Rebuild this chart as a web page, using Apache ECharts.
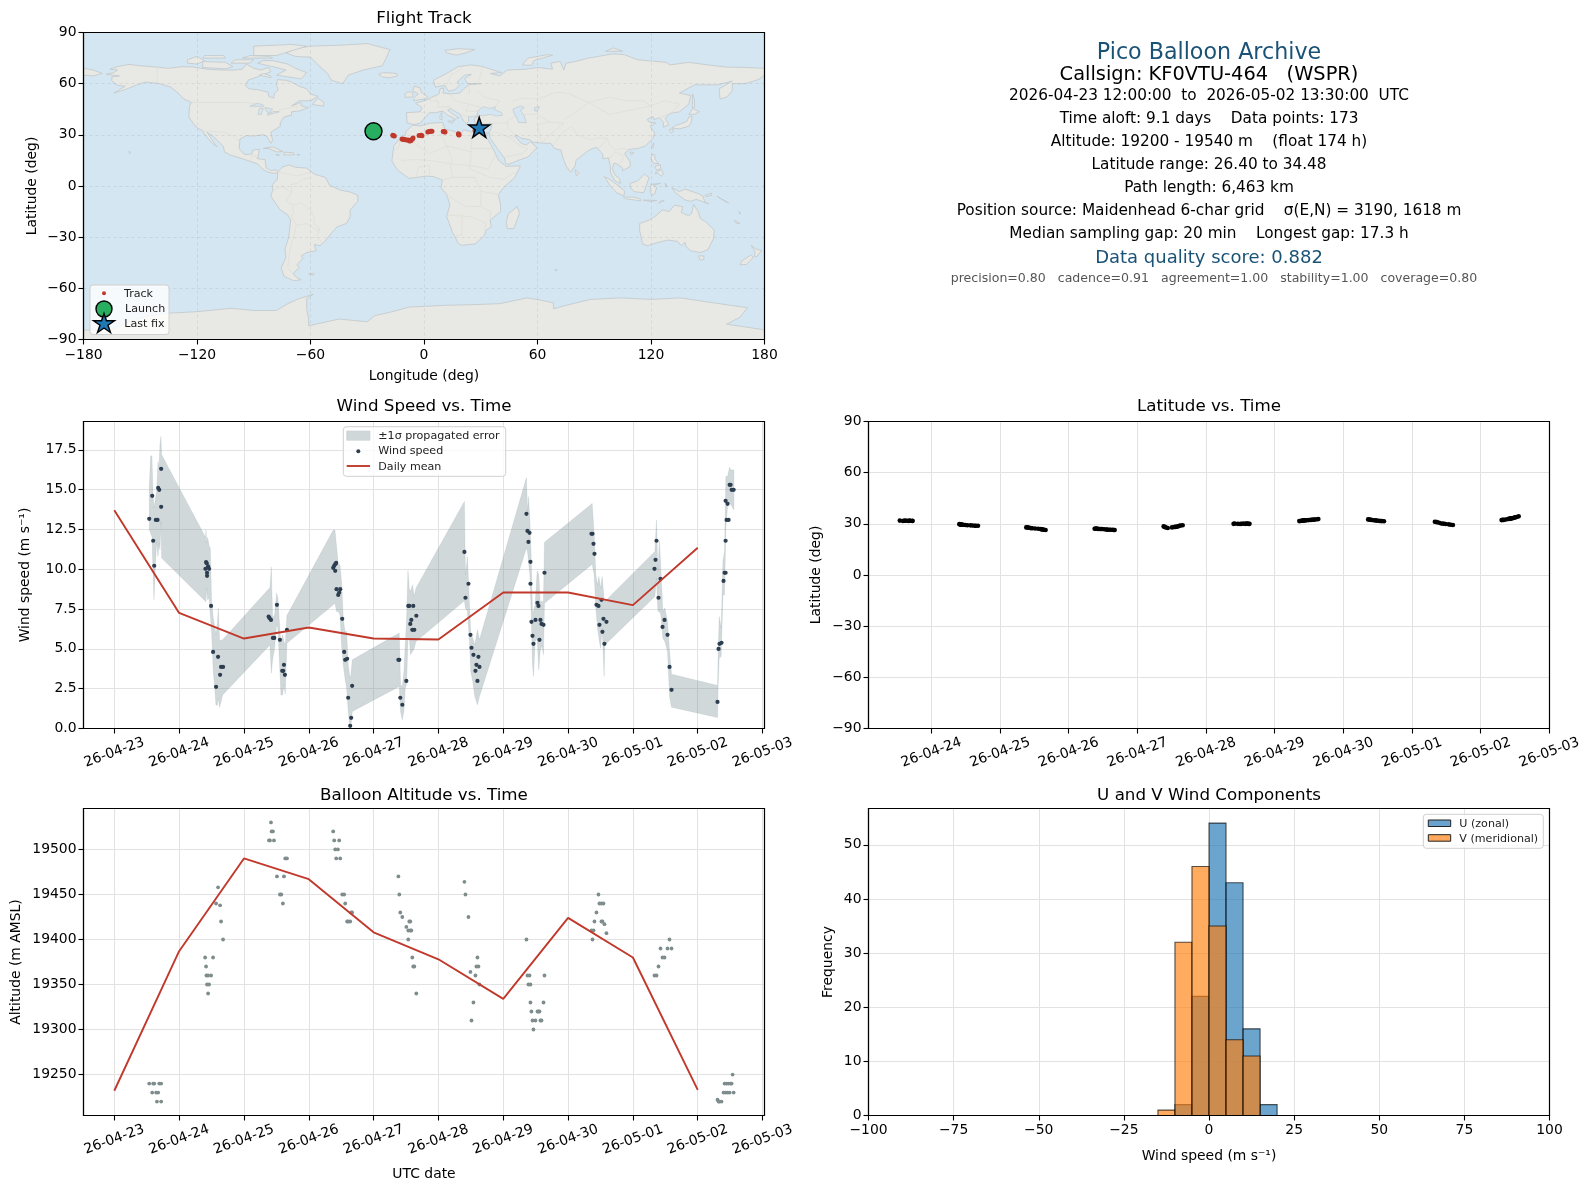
<!DOCTYPE html>
<html><head><meta charset="utf-8">
<style>html,body{margin:0;padding:0;background:#fff}#c{width:1589px;height:1189px}</style>
<script src="https://cdn.jsdelivr.net/npm/echarts@6/dist/echarts.min.js"></script>
</head><body><div id="c"></div>
<script>
// ---------- tick labels ----------
const dayLabels = ['26-04-23','26-04-24','26-04-25','26-04-26','26-04-27','26-04-28','26-04-29','26-04-30','26-05-01','26-05-02','26-05-03'];
const dayTicks = [0,1,2,3,4,5,6,7,8,9,10];
const latDayTicks = [1,2,3,4,5,6,7,8,9,10];
const windTicks = [0,2.5,5,7.5,10,12.5,15,17.5];
const altTicks = [19250,19300,19350,19400,19450,19500];
const lonTicks = [-180,-120,-60,0,60,120,180];
const latTicks = [-90,-60,-30,0,30,60,90];
const histXTicks = [-100,-75,-50,-25,0,25,50,75,100];
const histYTicks = [0,10,20,30,40,50];

// ---------- time series (days since 2026-04-23 00:00 UTC) ----------
const windTimes = [
0.539,0.585,0.600,0.616,0.641,0.667,0.677,0.693,0.723,0.723,
1.416,1.426,1.447,1.406,1.462,1.431,1.431,1.493,1.524,1.601,1.570,1.632,1.647,1.678,
2.381,2.396,2.417,2.447,2.468,2.509,2.555,2.663,2.617,2.591,2.606,2.632,
3.377,3.392,3.408,3.423,3.408,3.428,3.485,3.469,3.454,3.516,3.546,3.562,3.592,3.608,3.669,3.654,3.639,
4.382,4.397,4.412,4.443,4.505,4.535,4.551,4.612,4.582,4.566,4.597,4.628,4.659,
5.401,5.417,5.463,5.494,5.510,5.540,5.617,5.586,5.633,5.571,5.602,
6.358,6.374,6.405,6.389,6.420,6.420,6.636,6.528,6.543,6.435,6.497,6.574,6.590,6.621,6.451,6.466,6.559,
7.361,7.377,7.392,7.407,7.438,7.469,7.515,7.484,7.546,7.592,7.530,7.561,
8.364,8.349,8.333,8.426,8.395,8.488,8.457,8.534,8.565,8.596,
9.305,9.321,9.336,9.367,9.398,9.414,9.430,9.430,9.445,9.476,9.430,9.461,9.492,9.507,9.523,9.554];
const windValues = [
13.17,14.61,11.79,10.22,13.10,13.10,15.11,14.99,16.31,13.92,
10.45,10.38,10.19,10.03,10.03,9.78,9.59,7.70,4.81,4.50,2.62,3.37,3.87,3.87,
7.03,6.93,6.82,5.69,5.69,7.77,5.57,6.20,4.00,3.62,3.62,3.37,
10.09,10.22,10.32,10.40,9.90,8.75,8.75,8.54,8.39,6.89,4.81,4.31,4.38,1.93,2.68,0.67,0.17,
4.31,4.31,1.93,1.49,2.99,7.70,7.70,7.70,6.82,6.57,6.20,6.20,7.08,
11.09,8.21,9.09,5.88,5.07,4.63,4.50,4.00,3.87,3.62,2.99,
13.48,12.41,12.29,11.72,10.47,9.09,9.78,7.89,7.70,6.70,6.82,6.82,6.57,6.51,5.82,5.32,5.57,
12.23,12.23,11.60,10.97,7.77,7.70,8.08,6.51,6.89,6.70,6.07,5.32,
11.79,10.59,10.03,9.40,8.21,6.82,6.38,5.88,3.87,2.43,
1.67,5.00,5.32,5.38,9.27,9.78,9.78,11.79,13.10,13.10,14.30,14.11,15.30,15.30,14.99,14.99];
const latValues = [
31.9,31.7,31.8,31.9,31.8,31.7,31.9,31.8,31.7,31.8,
29.7,29.6,29.5,29.8,29.5,29.6,29.6,29.3,29.2,29.0,29.1,28.9,28.9,28.9,
27.9,27.9,27.8,27.5,27.4,27.3,27.1,26.4,26.7,26.9,26.8,26.6,
27.1,27.2,27.1,27.1,27.1,27.0,27.0,27.0,27.0,26.8,26.7,26.6,26.5,26.5,26.4,26.4,26.5,
28.5,28.3,27.9,27.6,27.9,28.1,28.2,28.9,28.4,28.3,28.6,29.0,29.2,
30.0,30.1,30.0,29.9,30.0,30.1,30.0,30.1,30.0,30.0,30.1,
31.6,31.7,31.9,31.8,32.0,31.9,32.8,32.3,32.4,32.0,32.2,32.5,32.5,32.7,32.1,32.1,32.4,
32.6,32.5,32.4,32.3,32.1,32.0,31.8,31.9,31.7,31.5,31.7,31.6,
31.0,31.1,31.2,30.2,30.6,29.9,30.1,29.7,29.5,29.3,
32.2,32.3,32.3,32.5,32.8,32.9,33.0,33.1,33.2,33.4,33.1,33.3,33.7,33.8,34.0,34.4];
const altTimes = [
0.539,0.585,0.600,0.616,0.646,0.677,0.658,0.693,0.723,0.723,
1.401,1.524,1.416,1.421,1.447,1.493,1.431,1.462,1.447,1.601,1.570,1.632,1.647,1.678,
2.417,2.427,2.447,2.386,2.401,2.463,2.509,2.555,2.576,2.601,2.617,2.637,2.663,
3.377,3.392,3.469,3.408,3.449,3.423,3.485,3.516,3.546,3.562,3.654,3.669,3.592,3.639,3.608,
4.382,4.397,4.412,4.443,4.505,4.551,4.566,4.535,4.566,4.582,4.535,4.597,4.612,4.628,4.659,
5.401,5.417,5.463,5.602,5.586,5.617,5.494,5.571,5.633,5.540,5.510,
6.358,6.374,6.405,6.389,6.420,6.636,6.420,6.621,6.435,6.528,6.559,6.451,6.497,6.466,6.574,6.590,6.543,
7.469,7.484,7.515,7.546,7.438,7.407,7.515,7.561,7.361,7.392,7.377,7.592,7.530,
8.333,8.364,8.395,8.457,8.488,8.426,8.534,8.596,8.565,
9.305,9.321,9.367,9.336,9.538,9.414,9.445,9.476,9.507,9.523,9.398,9.430,9.461,9.492,9.554];
const altValues = [
19240,19230,19240,19240,19230,19230,19220,19240,19240,19220,
19380,19380,19370,19360,19360,19360,19350,19350,19340,19458,19440,19438,19420,19400,
19530,19520,19520,19510,19510,19510,19470,19450,19450,19440,19470,19490,19490,
19520,19510,19510,19500,19500,19490,19490,19450,19450,19440,19430,19430,19420,19420,19420,
19470,19450,19430,19425,19414,19420,19420,19410,19410,19410,19400,19380,19370,19370,19340,
19464,19450,19425,19380,19370,19370,19364,19360,19350,19330,19310,
19400,19360,19360,19350,19350,19360,19330,19330,19320,19320,19320,19310,19310,19300,19310,19310,19320,
19450,19440,19440,19440,19430,19420,19420,19417,19410,19410,19400,19407,19420,
19360,19360,19370,19380,19380,19390,19390,19390,19400,
19222,19220,19220,19220,19250,19240,19240,19240,19240,19240,19230,19230,19230,19230,19230];

// daily means
const meanDays = [0,1,2,3,4,5,6,7,8,9];
const windMean = [13.71,7.26,5.65,6.34,5.65,5.59,8.54,8.54,7.75,11.35];
const altMean = [19232,19387,19490,19467,19408,19378,19334,19424,19380,19233];

// +/-1 sigma band
const bandTimes = [0.540,0.560,0.581,0.596,0.612,0.632,0.653,0.674,0.689,0.704,0.720,0.730,1.409,1.414,1.424,1.440,1.465,1.481,1.501,1.527,1.553,1.568,1.589,1.604,1.625,1.671,2.401,2.422,2.442,2.473,2.504,2.524,2.545,2.571,2.596,2.617,2.638,2.663,3.378,3.404,3.429,3.455,3.481,3.506,3.532,3.558,3.584,3.609,3.635,3.650,3.671,4.396,4.416,4.442,4.468,4.488,4.509,4.530,4.550,4.571,4.600,4.627,4.653,5.401,5.417,5.448,5.479,5.499,5.530,5.561,5.602,5.633,6.358,6.374,6.389,6.410,6.430,6.451,6.466,6.492,6.523,6.548,6.569,6.595,6.620,6.636,7.372,7.403,7.428,7.454,7.475,7.501,7.526,7.556,7.567,8.339,8.364,8.385,8.410,8.431,8.462,8.493,8.534,8.565,8.596,9.306,9.316,9.331,9.362,9.388,9.413,9.434,9.460,9.491,9.512,9.558];
const bandUpper = [15.20,17.08,17.14,14.88,13.84,14.36,14.88,16.77,16.35,17.81,18.34,17.19,12.00,12.48,11.64,12.00,11.43,11.33,7.98,6.93,6.30,5.88,6.51,7.56,5.51,5.57,8.85,10.15,6.93,7.14,8.50,8.19,6.82,5.25,5.88,5.46,5.25,7.10,12.46,12.46,11.43,10.28,10.28,9.23,6.93,6.09,6.09,4.00,3.16,3.37,4.31,5.99,2.74,2.64,3.58,5.25,6.93,9.92,8.81,8.60,9.02,8.29,8.81,14.26,9.65,10.80,7.77,5.99,5.67,5.25,6.20,5.57,15.76,13.63,14.57,13.21,10.91,7.35,7.35,7.77,9.90,9.65,7.98,7.98,7.98,11.70,14.13,12.16,9.65,9.02,9.55,8.81,9.55,8.08,7.98,11.12,13.10,9.86,11.79,10.07,7.35,7.56,6.72,4.84,3.41,2.70,4.84,7.03,6.30,10.49,11.12,15.83,15.83,16.41,16.24,16.24];
const bandLower = [12.48,12.27,12.06,10.07,8.08,10.07,11.74,10.80,11.64,11.22,13.00,10.70,7.98,7.98,8.81,8.08,8.19,7.14,6.09,3.58,2.32,1.49,1.44,1.90,1.32,2.11,5.25,3.47,4.31,5.04,6.51,6.30,4.42,2.11,2.11,2.74,2.16,5.36,7.77,7.87,7.35,7.35,7.14,5.25,4.00,3.16,2.53,1.07,0.00,0.13,1.07,2.64,1.07,0.54,1.07,2.53,2.74,5.67,5.67,4.63,4.84,5.04,5.46,8.02,7.56,7.35,5.46,3.58,2.95,2.01,1.49,2.01,11.33,11.12,10.49,9.65,7.35,4.00,3.27,5.46,5.67,3.68,4.84,5.25,4.63,7.87,10.32,9.65,7.56,6.30,5.67,5.04,6.30,3.27,5.25,8.29,9.44,7.35,7.35,7.14,5.67,5.46,4.84,2.01,1.34,0.69,2.85,4.42,4.52,8.39,8.39,12.58,13.94,14.26,14.05,13.73];

// ---------- histogram (bin edges 5 m/s wide) ----------
const binLeft = [-15,-10,-5,0,5,10,15];
const uCounts = [0,2,22,54,43,16,2];
const vCounts = [1,32,46,35,14,11,0];

// ---------- track ----------
const trackLon = [-25.5,-24.5,-23.5,-16.5,-16.1,-15.7,-11.6,-11,-10.2,-9.4,-8.4,-7.6,-7,-6.2,-5.8,-2.6,-1.5,-1.1,2,2.8,3.6,4.2,10.2,10.7,11.1,18.2,18.4,18.5,27,28,29];
const trackLat = [32,32,31.9,29.7,29.5,29.3,27.5,27.3,27.2,27,26.9,26.4,26.6,27.4,28.1,29.6,29.8,29.5,31.6,31.9,32.1,32.1,32,31.8,31.6,30.6,30.2,29.9,32.5,33,33.8];
const launchPoint = [-26.7,32.1];
const lastFix = [29.2,34.4];

// ---------- base map (lon,lat outlines) ----------
const northAmerica = [[-168,65.5],[-164,66.5],[-162,68],[-166,68.5],[-162,70],[-156,71.3],[-150,70.5],[-141,69.7],[-135,69],[-128,70],[-122,69.8],[-115,68.5],[-108,68],[-100,68],[-96,68.5],[-94,71.5],[-90,69],[-86,68],[-82,69.5],[-81,67],[-87,64.5],[-93,62],[-94.5,59],[-92.5,57],[-88,56.5],[-82.5,55],[-82,52.5],[-79.5,51.5],[-79,54.5],[-77,56.5],[-78,59],[-77.5,62.4],[-73,62],[-70,61],[-66,58.5],[-62,57],[-60,54],[-56,52.5],[-60,50],[-66,50],[-70,47],[-65,49],[-65,47],[-61,46],[-66,44],[-70,43.5],[-70,41.5],[-74,40.5],[-76,37],[-76,35],[-81,31.5],[-80,27],[-81,25],[-83,29],[-85,30],[-90,29.3],[-94,29.5],[-97.3,27.5],[-97.7,22],[-95,18.5],[-91,18.7],[-90.5,21],[-87,21.5],[-88,16],[-84,15.5],[-83.5,11],[-81,9],[-78,9.5],[-77.3,8.3],[-78,7.5],[-80,7.5],[-83,8.3],[-85.5,10],[-88,13],[-92,14.5],[-96,16],[-102,18],[-105.5,20],[-106,23],[-109,26.5],[-112.5,30],[-114.7,31.5],[-112,27],[-109.5,23],[-112,25],[-115,29],[-117.3,32.5],[-120.5,34.5],[-122.5,37.5],[-124.3,40.5],[-124,46.5],[-123,49],[-127,51],[-130,54.5],[-134,58],[-140,60],[-147,61],[-152,59.2],[-158,56.5],[-164,54.5],[-158,58.5],[-162,59],[-165,61.5],[-165,64],[-161,64.5]];
const greenland = [[-73,78],[-68,76],[-60,75.5],[-55,70],[-51,66],[-49,62],[-43,60],[-40,65],[-32,68],[-22,70.5],[-20,75],[-18,80],[-30,83.5],[-45,82.5],[-60,82],[-68,80.5]];
const southAmerica = [[-77.3,8.3],[-75,11],[-71.5,12.4],[-68,11],[-62,10.5],[-58,7],[-52,5],[-50,0.5],[-44,-2.5],[-39,-3.5],[-35,-5.5],[-35,-9],[-39,-14],[-39,-18],[-41,-22],[-46,-24],[-48.5,-27],[-52,-32],[-55,-35],[-58,-34.3],[-57,-38],[-62,-39],[-65,-41],[-64,-42.5],[-67,-46],[-66,-48],[-69,-51],[-68,-53],[-65,-55],[-69,-55.5],[-74,-53],[-75.5,-48],[-73,-42],[-73.5,-37],[-71.5,-30],[-70.5,-20],[-72,-17],[-76,-14],[-81,-6],[-80,-2.5],[-80,1],[-77.5,4]];
const africa = [[-17,14.7],[-16.5,19],[-16,23.5],[-13,27.5],[-10,29.5],[-9.5,32],[-6,35.7],[-2,35.2],[3,36.8],[10,37.3],[11,33.5],[15,32.3],[19.5,30.5],[21,33],[25,31.7],[32,31.2],[34.3,31.2],[32.5,29.5],[35.5,24],[37.3,20],[39.5,15],[43.3,11.5],[51,11.8],[48,5],[42,-1],[39.3,-5],[40.5,-11],[40.5,-15],[35,-20],[35.5,-24],[32.8,-26],[32,-29],[27,-34],[20,-34.8],[18.3,-34],[15,-27],[12,-18],[13.7,-11],[12,-5],[9,-1],[9.7,3.5],[5,5.5],[1,5.8],[-4,5],[-8,4.5],[-13,8.5],[-15,11]];
const eurasia = [[-9,37],[-9.3,43],[-2,43.5],[-1,46],[-4.5,48.5],[1.5,50.5],[4,52],[8,54],[8.5,57],[10.5,57.5],[10,54.5],[14,54],[19,54.5],[21,57],[24,59.5],[30,60],[23,60],[21.5,63],[25,65.5],[21.5,65],[17.5,61],[19,59.5],[16.5,56.5],[13,55.5],[11,59],[6,58],[5,62],[12,66],[18,70],[25,71],[31,70],[41,66.5],[35,66],[40,64.5],[44,68],[54,68.5],[60,69.5],[68,68.5],[67,72],[72,73],[74,68],[75,72],[80,73],[87,75],[100,77.5],[106,77],[113,74],[128,72.5],[130,71],[140,72.5],[150,71],[160,69.7],[170,69.5],[180,69],[180,65],[177,62.5],[170,60],[163,60],[163,56],[160,52],[156.5,51],[156,57],[163,61.5],[155,59.3],[143,59.3],[135,54.5],[141,53],[140,48],[135,43.5],[130,42.5],[127.5,39.7],[129.5,36],[126.5,34.5],[126.5,37.5],[124.5,40],[121.5,39],[121,40.8],[118,39],[119,37.5],[122.5,37],[119.5,35],[122,31],[121,28],[117,23.5],[113,22],[108.5,21.5],[106,19],[109,14],[109,11.5],[105,9],[105,10.5],[102.5,12.5],[100.5,13.5],[99.5,10],[101,6.5],[103.5,4],[103.8,1.5],[101,3],[98.5,8],[98.5,12],[97.5,16.5],[94.5,16],[94.5,18.5],[91.5,22.5],[89,22],[86,20],[80.3,15],[80,12],[77.5,8],[75,12],[73,18],[72.5,21],[69,22],[67,25],[61.5,25.2],[57,25.8],[56.3,27],[51.5,28],[48.5,30],[48,29.5],[50.5,26],[51.5,25],[54,24],[56.3,26],[59.7,22.5],[55,17],[51,15.5],[45,12.8],[43.2,13],[42.5,16.5],[39,21.5],[35,28],[34.5,31.3],[35.5,33.5],[36,36.7],[32,36.2],[30,36.5],[27,37],[26.5,39.5],[29,41],[26,40.8],[23.5,40.5],[23.5,38],[22.5,36.5],[21,38],[19.5,41],[19,42.2],[14,45.3],[12.5,44.5],[16,41.5],[18.5,40],[16.5,39.5],[16,38],[15.5,40],[12.5,41.5],[10,44],[6,43],[3,43],[0,39.5],[-2,36.8],[-5.5,36]];
const australia = [[114,-22],[114,-26],[115.5,-34],[118,-35],[124,-33],[129,-31.7],[134,-32.5],[136,-35],[138,-33],[138.5,-35.5],[141,-38],[146,-39],[150,-37.5],[153,-31],[153.5,-26],[149,-21],[146,-19],[145,-15],[142.5,-10.8],[141.5,-16],[140,-17.5],[136,-15.5],[136.8,-12.2],[132.5,-11.3],[129.5,-15],[126,-14],[122,-18],[119,-20]];
const antarctica = [[-180,-90],[-180,-84.5],[-165,-84],[-155,-79],[-145,-76],[-134,-74.5],[-120,-73.7],[-102,-71.7],[-90,-73],[-78,-73],[-72,-69],[-66,-66],[-58.5,-63.5],[-62,-66],[-62,-72],[-61,-78],[-61,-82],[-45,-78],[-30,-79.6],[-26,-76],[-16,-73.5],[-8,-71],[-2,-70.7],[10,-70],[28,-69.5],[40,-69],[54.5,-65.6],[62,-67],[68.5,-68.5],[68.5,-72],[75,-70],[88,-66.5],[104,-65.6],[120,-66.5],[135.6,-65.6],[150,-68],[171,-71.4],[167,-77],[160,-81],[178,-84],[180,-84.5],[180,-90]];
const islands = [
[[-180,65],[-175,64.5],[-170,66],[-175,68],[-180,69]],
[[-80,73.5],[-72,71.5],[-68,69],[-62,66.5],[-65,62.8],[-72,64],[-78,65],[-73,68],[-80,70],[-88,72],[-85,73.5]],
[[-117,69.5],[-105,68.7],[-101,70],[-105,72.5],[-117,73]],[[-125,72],[-120,71.5],[-116,73.5],[-120,76],[-125,74]],
[[-90,76.5],[-78,76.5],[-62,82],[-70,83],[-90,82]],[[-96,75],[-80,75],[-82,76],[-92,76.5]],[[-117,75],[-105,75],[-106,76.5],[-116,76.5]],
[[-102,72],[-92,72],[-90,74],[-100,74]],[[-59,47.8],[-53,46.8],[-53,49],[-56,51.5]],[[-87,65],[-81,63.5],[-81,64.5],[-85,66]],
[[-85,22],[-80,23],[-74.5,20.2],[-78,20],[-82,22]],[[-74,19.8],[-69,19.5],[-68.5,18.3],[-74,18.2]],[[-78.3,18.4],[-76.3,18.2],[-77,17.8]],[[-67.2,18.4],[-65.7,18.4],[-66,18]],
[[-156,20.3],[-155,19.7],[-155.7,19]],[[-61,-51.5],[-58,-51.5],[-59,-52.3]],
[[-5.5,50],[1.5,51.3],[1.7,52.7],[-1.5,55],[-2,57.5],[-5,58.6],[-6,56],[-3,54],[-5,52]],[[-10,52],[-6,52.2],[-5.8,54.8],[-8.5,55.2],[-10,54]],
[[-24,65.5],[-22,64],[-18.5,63.4],[-14,64.5],[-14.5,66],[-18,66.3],[-22,66.4]],[[12,78],[17,76.7],[22,78],[27,80],[18,80.5],[11,79.5]],
[[52,71],[57,70.7],[58,73.5],[68,76.7],[65,77],[55,75]],[[96,79],[105,79],[100,81]],
[[12.5,38],[15.5,38.2],[15,36.7]],[[8.3,41],[9.7,41],[9.5,39],[8.5,39]],[[8.7,42.5],[9.5,43],[9.3,41.5]],[[23.5,35.5],[26.3,35.2],[24.5,34.9]],[[32.5,35],[34.5,35.6],[33.5,34.6]],
[[142,54],[143,50],[143,46],[141.8,46],[142,50]],[[131,34],[135,33.5],[140,35],[141.5,38],[141.5,41],[140,40.5],[139,38],[136,36.5],[133,35.5]],[[140,42],[143,42],[145.5,43.5],[142,45.5],[141,43.5]],[[130,33.5],[132,33],[131,31],[130,32]],
[[120.2,23],[121.5,25.2],[121,22]],[[109,20],[111,19.5],[109.5,18.2]],[[80,9.5],[82,7.5],[80.5,6]],
[[120.5,18.5],[122,18.3],[122,16],[124,13],[121,13.5],[120,16]],[[122,7.5],[125.5,9.7],[126.5,7],[125.5,5.7],[123.7,7.5]],[[122,11.5],[125,12.5],[125,10.2],[123,9.2]],
[[95.3,5.5],[98,4],[103,0],[106,-3],[105.8,-5.8],[102,-4],[98.5,0]],[[105.3,-6.5],[111,-6.5],[114.5,-7.7],[114.5,-8.7],[106.5,-7.5]],
[[109,1.5],[113,3],[116.5,7],[119,5],[117.7,1],[116.2,-4],[111,-3.3],[109,-0.5]],[[120,1],[125,1.5],[121,0.5],[123,-1],[122,-4.5],[120.5,-5.5],[119.5,-3]],
[[131,-1],[135,-3.3],[138,-1.8],[145,-4.5],[147.5,-6],[148.5,-9.5],[150.5,-10.5],[144,-7.8],[141,-9],[138,-8.2],[133,-4]],
[[127.5,1.7],[128.5,0],[127.8,-0.5]],[[124,-10],[127,-8.5],[125,-9]],[[116,-8.3],[120,-8.3],[123,-8.5],[120,-9]],[[148.5,-5.5],[152,-4.2],[152,-5.5],[149,-6.2]],
[[155,-6],[157,-7.5],[159,-8.5],[161,-10],[159,-9]],[[164,-20],[167,-22],[165,-21.8]],[[166.5,-15],[167.5,-16],[167,-16.5]],
[[49.3,-12],[50.5,-16],[47.5,-25],[44,-25],[43.5,-21],[44.5,-16.5]],[[145,-41],[148,-41],[148,-43],[146,-43.5]],
[[173,-35],[175.5,-37],[178.5,-37.7],[176,-41.3],[174.8,-41.3],[175,-38.5]],[[172.7,-40.5],[174.2,-41.7],[170.5,-46],[167,-46.2],[168,-44]],[[69,-49],[70.5,-49.3],[69.5,-49.7]]];
const inlandWaters = [
[[28,41.5],[31,41.2],[35,42],[38,41],[41.5,41.5],[41,43],[37,45],[38,46.5],[35,45.5],[33,46],[31,46.5],[28.5,44]],
[[47,45],[51,47],[53,46],[51,44.5],[53,41],[54,37],[50,37.3],[49,40],[47.5,43]],[[58.5,46],[61,46.5],[60,44],[58.5,44]],
[[-92,46.8],[-88,48.5],[-85,47.5],[-85,46.5],[-88,46.7]],[[-87.8,42],[-86,42],[-85,45.5],[-87,45.5]],[[-84,46],[-80,45],[-82,43],[-83.5,44]],[[-83,41.6],[-79,42.8],[-76.5,43.5],[-79.5,43.7],[-82,42.6]]];
const borders = [
[[-141,69.7],[-141,60]],[[-123,49],[-95,49],[-88,48.2],[-83,45.5],[-82.5,42],[-79,43],[-75,45],[-70,46],[-67.5,47],[-67,45]],
[[-117.2,32.5],[-108,31.5],[-106,31.7],[-101,29.5],[-97.3,26]],[[-92,14.7],[-91,17.5],[-89,17.8],[-88.5,16]],[[-83,8.5],[-83.5,11]],
[[-77.3,8.3],[-72,7],[-67,6],[-60,8]],[[-70,-4],[-70,1],[-67,1.5],[-64,4],[-60,5]],[[-80,-3],[-75,0],[-70,-4],[-73,-9],[-69.5,-11],[-69,-16],[-70,-18]],[[-69,-11],[-65,-10],[-60,-14],[-58,-19],[-58,-22],[-55,-25],[-57,-30],[-53,-33.5]],[[-70,-18],[-67.5,-23],[-69,-30],[-71,-38],[-72,-48],[-69,-52]],[[-67.5,-23],[-62,-22],[-58,-25],[-54.5,-26]],
[[-16,21],[-13,23],[-13,27.5]],[[-8.5,27.5],[-5,25],[3,19],[12,23.5],[25,20]],[[-12,15],[-5,15.5],[3,15],[14,13]],[[10,37],[9,30],[12,23.5]],[[25,31.7],[25,20],[24,10],[35,5],[42,4],[48,8]],[[25,22],[36.8,22]],[[12,23.5],[15,15],[14,13],[15,5],[9.7,3.5]],[[14,13],[24,12],[34,10],[36,15],[38,18]],[[15,5],[27,5],[30,-3],[30,-12],[22,-12],[13,-6]],[[30,-3],[39.5,-5]],[[30,-12],[35,-15],[35,-20]],[[12,-17],[25,-18],[33,-22],[32,-26]],[[20,-18],[20,-29],[17,-29]],[[-4,5],[-3,11],[3,12],[3,6]],
[[-1.5,43.3],[3,42.4]],[[2.5,50.8],[8,49],[7,46],[10,46.5],[13.5,46.5],[13.7,45.5]],[[7,54],[6,51],[8,49]],[[14,54],[15,51],[18,49.5],[24,48],[30,46]],[[24,48],[22,44],[28,43.7]],[[24,54],[24,58]],[[28,42],[26.5,41],[22,41],[19.5,42]],[[28,56],[32,52],[40,50],[38,47]],[[31,69.5],[29,62],[28,60]],[[12,59],[14,65],[20,69]],
[[48,41],[44,38],[44.5,34],[48,30]],[[36,36.7],[44,37]],[[35,29.5],[37,32],[44,29],[48,28.5]],[[44,29],[52,23],[55,22],[52,19],[43,17]],[[62,25],[61,31],[60,36],[66,37.5],[74,37]],[[62,25],[66,29.5],[70,33],[74,37]],[[68,24],[71,28],[74,32],[78,35]],[[78,35],[81,30],[88,27],[92,28],[97,28],[94,24],[92,22]],[[97,28],[98,24],[101,21],[104,22],[108,21.5]],[[98,16],[101,20],[105,18],[105,15],[102.5,12.5]],[[47,50],[52,51.5],[60,51],[70,55],[77,54],[87,49]],[[53,42],[60,42],[66,37.5]],[[87,49],[80,43],[74,39]],[[87,49],[98,42],[112,45],[120,47],[116,50],[107,50],[98,52],[87,49]],[[120,47],[127,50],[135,48],[131,43]],[[124.5,40],[130,42.5]],[[126,38],[129,38]]
];
const landPolygons = [northAmerica,greenland,southAmerica,africa,eurasia,australia,antarctica].concat(islands);

// ---------- text panel ----------
const panelTexts = [
 'Pico Balloon Archive',
 'Callsign: KF0VTU-464   (WSPR)',
 '2026-04-23 12:00:00  to  2026-05-02 13:30:00  UTC',
 'Time aloft: 9.1 days    Data points: 173',
 'Altitude: 19200 - 19540 m    (float 174 h)',
 'Latitude range: 26.40 to 34.48',
 'Path length: 6,463 km',
 'Position source: Maidenhead 6-char grid    \u03c3(E,N) = 3190, 1618 m',
 'Median sampling gap: 20 min    Longest gap: 17.3 h',
 'Data quality score: 0.882',
 'precision=0.80   cadence=0.91   agreement=1.00   stability=1.00   coverage=0.80'
];

// ---------- layout ----------
const panelY = [53,74.5,96.5,119.5,142.5,165.5,188.5,211.5,234.5,258,279];
const panelSize = [22.2,19.4,15.3,15.3,15.3,15.3,15.3,15.3,15.3,18,12.55];
const panelColor = ['#1a5276','#000','#000','#000','#000','#000','#000','#000','#000','#1a5276','#555'];
const panelDx = [0,0,0,0,0,0,0,0,0,0,5];
const FONT = '"DejaVu Sans"';
const L0=83.5, L1=868.5, W=681, H=307;
const tops = [32.5,421.5,808.5];
const G = [
 {left:L0,top:tops[0],width:W,height:H,show:true,backgroundColor:'#d4e6f1',borderWidth:0},
 {left:L0,top:tops[1],width:W,height:H},
 {left:L1,top:tops[1],width:W,height:H},
 {left:L0,top:tops[2],width:W,height:H},
 {left:L1,top:tops[2],width:W,height:H}
];
const gridLine = {show:true,lineStyle:{color:'#e2e2e2',width:1}};
const tickStyle = {show:true,length:5,lineStyle:{color:'#000',width:1.1}};
const lineAx = {show:true,onZero:false,lineStyle:{color:'#000',width:1.1}};
const minus = v => String(v).replace('-','\u2212');

function xDays(grid,min,max,ticks,name){
 return {type:'value',gridIndex:grid,min,max,name:name||'',nameLocation:'middle',nameGap:52,
  nameTextStyle:{fontFamily:FONT,fontSize:13.9,color:'#000'},
  axisLine:lineAx,axisTick:Object.assign({},tickStyle,{customValues:ticks}),
  axisLabel:{customValues:ticks,rotate:20,align:'center',verticalAlign:'middle',margin:24,fontFamily:FONT,fontSize:13.9,color:'#000',hideOverlap:false,
    formatter:v=>dayLabels[Math.round(v)]},
  splitLine:Object.assign({},gridLine,{customValues:ticks})};
}
function yVal(grid,min,max,ticks,name,fmt,gap,sl,pad){
 return {type:'value',gridIndex:grid,min,max,name,nameLocation:'middle',nameGap:gap,
  nameTextStyle:{fontFamily:FONT,fontSize:13.9,color:'#000'},
  axisLine:lineAx,axisTick:Object.assign({},tickStyle,{customValues:ticks}),
  axisLabel:{customValues:ticks,margin:7,padding:[pad||3,0,0,0],fontFamily:FONT,fontSize:13.9,color:'#000',hideOverlap:false,formatter:fmt||minus},
  splitLine:Object.assign({},sl||gridLine,{customValues:ticks})};
}
const mapLine = {show:true,lineStyle:{color:'rgba(110,110,110,0.17)',width:0.8,type:[3,3]}};
const xMap = {type:'value',gridIndex:0,min:-180,max:180,z:3,name:'Longitude (deg)',nameLocation:'middle',nameGap:30,
  nameTextStyle:{fontFamily:FONT,fontSize:13.9,color:'#000'},
  axisLine:lineAx,axisTick:Object.assign({},tickStyle,{customValues:lonTicks}),
  axisLabel:{customValues:lonTicks,margin:9,fontFamily:FONT,fontSize:13.9,color:'#000',hideOverlap:false,formatter:minus},
  splitLine:Object.assign({},mapLine,{customValues:lonTicks})};
const yMap = Object.assign(yVal(0,-90,90,latTicks,'Latitude (deg)',minus,44,mapLine),{z:3});
const xHist = {type:'value',gridIndex:4,min:-100,max:100,name:'Wind speed (m s\u207b\u00b9)',nameLocation:'middle',nameGap:34,
  nameTextStyle:{fontFamily:FONT,fontSize:13.9,color:'#000'},
  axisLine:lineAx,axisTick:Object.assign({},tickStyle,{customValues:histXTicks}),
  axisLabel:{customValues:histXTicks,margin:8,fontFamily:FONT,fontSize:13.9,color:'#000',hideOverlap:false,formatter:minus},
  splitLine:Object.assign({},gridLine,{customValues:histXTicks})};

const zip = (a,b)=>a.map((v,i)=>[v,b[i]]);
function polyItem(pts,fill,stroke,lw,api){
  return {type:'polygon',shape:{points:pts.map(p=>api.coord(p))},style:{fill,stroke,lineWidth:lw}};
}
function rectSeries(name,counts,color){
  return {type:'custom',name,xAxisIndex:4,yAxisIndex:4,coordinateSystem:'cartesian2d',
    data:binLeft.map((b,i)=>[b,b+5,counts[i]]).filter(d=>d[2]>0),encode:{x:[0,1],y:2},
    renderItem:(p,api)=>{
      const a=api.coord([api.value(0),0]), b=api.coord([api.value(1),api.value(2)]);
      return {type:'rect',shape:{x:a[0],y:b[1],width:b[0]-a[0],height:a[1]-b[1]},
        style:{fill:color,stroke:'#000',lineWidth:1.1,opacity:0.66}};
    }};
}
const starPath = 'path://M50 0L61.8 36.2 100 36.2 69.1 58.6 80.9 95 50 72.6 19.1 95 30.9 58.6 0 36.2 38.2 36.2Z';
const starOutline = [[50,0],[61.8,36.2],[100,36.2],[69.1,58.6],[80.9,95],[50,72.6],[19.1,95],[30.9,58.6],[0,36.2],[38.2,36.2]];
const series = [
 {type:'custom',name:'Land',coordinateSystem:'cartesian2d',xAxisIndex:0,yAxisIndex:0,z:2,silent:true,data:landPolygons.map((_,i)=>[i]),encode:{x:0},
  renderItem:(p,api)=>polyItem(landPolygons[p.dataIndex],'#e8e8e4','#c2c8ca',0.8,api)},
 {type:'custom',name:'Borders',coordinateSystem:'cartesian2d',xAxisIndex:0,yAxisIndex:0,z:2,silent:true,data:borders.map((_,i)=>[i]),encode:{x:0},
  renderItem:(p,api)=>({type:'polyline',shape:{points:borders[p.dataIndex].map(q=>api.coord(q))},style:{fill:'none',stroke:'#dcdcd8',lineWidth:0.7}})},
 {type:'custom',name:'Waters',coordinateSystem:'cartesian2d',xAxisIndex:0,yAxisIndex:0,z:2,silent:true,data:inlandWaters.map((_,i)=>[i]),encode:{x:0},
  renderItem:(p,api)=>polyItem(inlandWaters[p.dataIndex],'#d4e6f1','#c2c8ca',0.7,api)},
 {type:'scatter',name:'Track',xAxisIndex:0,yAxisIndex:0,z:5,symbolSize:5,itemStyle:{color:'#c0392b',opacity:1},data:zip(trackLon,trackLat)},
 {type:'scatter',name:'Launch',xAxisIndex:0,yAxisIndex:0,z:6,symbolSize:17,itemStyle:{color:'#27ae60',borderColor:'#000',borderWidth:1.4,opacity:1},data:[launchPoint]},
 {type:'scatter',name:'Last fix',xAxisIndex:0,yAxisIndex:0,z:6,
  symbol:starPath,symbolSize:[21,20],
  itemStyle:{color:'#1f77b4',borderColor:'#000',borderWidth:1.4,opacity:1},data:[lastFix]},
 {type:'custom',name:'\u00b11\u03c3 propagated error',coordinateSystem:'cartesian2d',xAxisIndex:1,yAxisIndex:1,z:2,silent:true,data:[[0]],encode:{x:0},
  renderItem:(p,api)=>polyItem(zip(bandTimes,bandUpper).concat(zip(bandTimes,bandLower).reverse()),'rgba(120,140,146,0.34)','rgba(120,140,146,0.18)',0.8,api)},
 {type:'scatter',name:'Wind speed',xAxisIndex:1,yAxisIndex:1,z:3,symbolSize:4.2,itemStyle:{color:'#2c3e50',opacity:1},data:zip(windTimes,windValues)},
 {type:'line',name:'Daily mean',xAxisIndex:1,yAxisIndex:1,z:4,symbol:'none',lineStyle:{color:'#c0392b',width:1.9},data:zip(meanDays,windMean)},
 {type:'scatter',name:'Latitude',xAxisIndex:2,yAxisIndex:2,z:3,symbolSize:4.6,itemStyle:{color:'#000',opacity:1},data:zip(windTimes,latValues)},
 {type:'scatter',name:'Altitude',xAxisIndex:3,yAxisIndex:3,z:3,symbolSize:3.8,itemStyle:{color:'#7f8c8d',opacity:1},data:zip(altTimes,altValues)},
 {type:'line',name:'Altitude mean',xAxisIndex:3,yAxisIndex:3,z:4,symbol:'none',lineStyle:{color:'#c0392b',width:1.9},data:zip(meanDays,altMean)},
 rectSeries('U (zonal)',uCounts,'#1f77b4'),
 rectSeries('V (meridional)',vCounts,'#ff7f0e')
];

const titleOf=(text,cx,top)=>({text,left:cx,top,padding:0,textAlign:'center',textStyle:{fontFamily:FONT,fontSize:16.7,fontWeight:'normal',color:'#000'}});
const titles=[titleOf('Flight Track',L0+W/2,10),titleOf('Wind Speed vs. Time',L0+W/2,398),titleOf('Latitude vs. Time',L1+W/2,398),titleOf('Balloon Altitude vs. Time',L0+W/2,787),titleOf('U and V Wind Components',L1+W/2,787)];

// frames, legends and text panel
const txt=(text,x,y,size,color,align)=>({type:'text',z:20,x,y,style:{text,fontFamily:FONT,fontSize:size,fill:color,align:align||'left',verticalAlign:'middle'}});
const box=(x,y,w,h)=>({type:'rect',z:18,shape:{x,y,width:w,height:h,r:3},style:{fill:'rgba(255,255,255,0.8)',stroke:'#d0d0d0',lineWidth:1}});
const frame=(g)=>({type:'rect',z:17,shape:{x:g.left,y:g.top,width:g.width,height:g.height},style:{fill:'none',stroke:'#000',lineWidth:1.2}});
const graphics=[].concat(
 G.map(frame),
 panelTexts.map((t,i)=>txt(t,L1+W/2+panelDx[i],panelY[i],panelSize[i],panelColor[i],'center')),
 [box(90,285,79,49.5),
  {type:'circle',z:20,shape:{cx:104,cy:293.3,r:2},style:{fill:'#c0392b'}},
  {type:'circle',z:20,shape:{cx:104,cy:309,r:8},style:{fill:'#27ae60',stroke:'#000',lineWidth:1.4}},
  {type:'polygon',z:21,shape:{points:starOutline.map(p=>[93.5+p[0]*0.21,313.5+p[1]*0.2])},style:{fill:'#1f77b4',stroke:'#000',lineWidth:1.4}},
  txt('Track',124,293.8,11.1,'#222'),txt('Launch',125,309,11.1,'#222'),txt('Last fix',124.3,323.7,11.1,'#222'),
  box(343.3,426.7,162.4,49.6),
  {type:'rect',z:20,shape:{x:346.7,y:431,width:23.3,height:9.3},style:{fill:'#d0d7d9',stroke:'#c8d0d2',lineWidth:0.6}},
  {type:'circle',z:20,shape:{cx:358.3,cy:451.3,r:2},style:{fill:'#2c3e50'}},
  {type:'line',z:20,shape:{x1:346.7,y1:466,x2:370,y2:466},style:{stroke:'#c0392b',lineWidth:1.9}},
  txt('\u00b11\u03c3 propagated error',378.3,436.2,11.1,'#222'),txt('Wind speed',378.3,451.3,11.1,'#222'),txt('Daily mean',378.3,466.8,11.1,'#222'),
  box(1423.3,814.3,120,34),
  {type:'rect',z:20,shape:{x:1428.3,y:820,width:22.4,height:6.5},style:{fill:'#6ba3cf',stroke:'#222',lineWidth:1}},
  {type:'rect',z:20,shape:{x:1428.3,y:834.7,width:22.4,height:6.5},style:{fill:'#ffa85b',stroke:'#222',lineWidth:1}},
  txt('U (zonal)',1459.3,824.5,11.1,'#222'),txt('V (meridional)',1459.3,839.5,11.1,'#222')]
);

const chart = echarts.init(document.getElementById('c'),null,{renderer:'canvas'});
chart.setOption({
 animation:false,backgroundColor:'#fff',textStyle:{fontFamily:FONT},
 title:titles,grid:G,
 xAxis:[xMap,xDays(1,-0.475,10.03,dayTicks),xDays(2,0.083,10.003,latDayTicks),xDays(3,-0.475,10.03,dayTicks,'UTC date'),xHist],
 yAxis:[yMap,
  yVal(1,0,19.28,windTicks,'Wind speed (m s\u207b\u00b9)',v=>v.toFixed(1),51),
  yVal(2,-90,90,latTicks,'Latitude (deg)',minus,45),
  yVal(3,19204.5,19545.5,altTicks,'Altitude (m AMSL)',String,60,null,5),
  yVal(4,0,56.7,histYTicks,'Frequency',String,33,null,5)],
 series,
 graphic:graphics
});
</script></body></html>
